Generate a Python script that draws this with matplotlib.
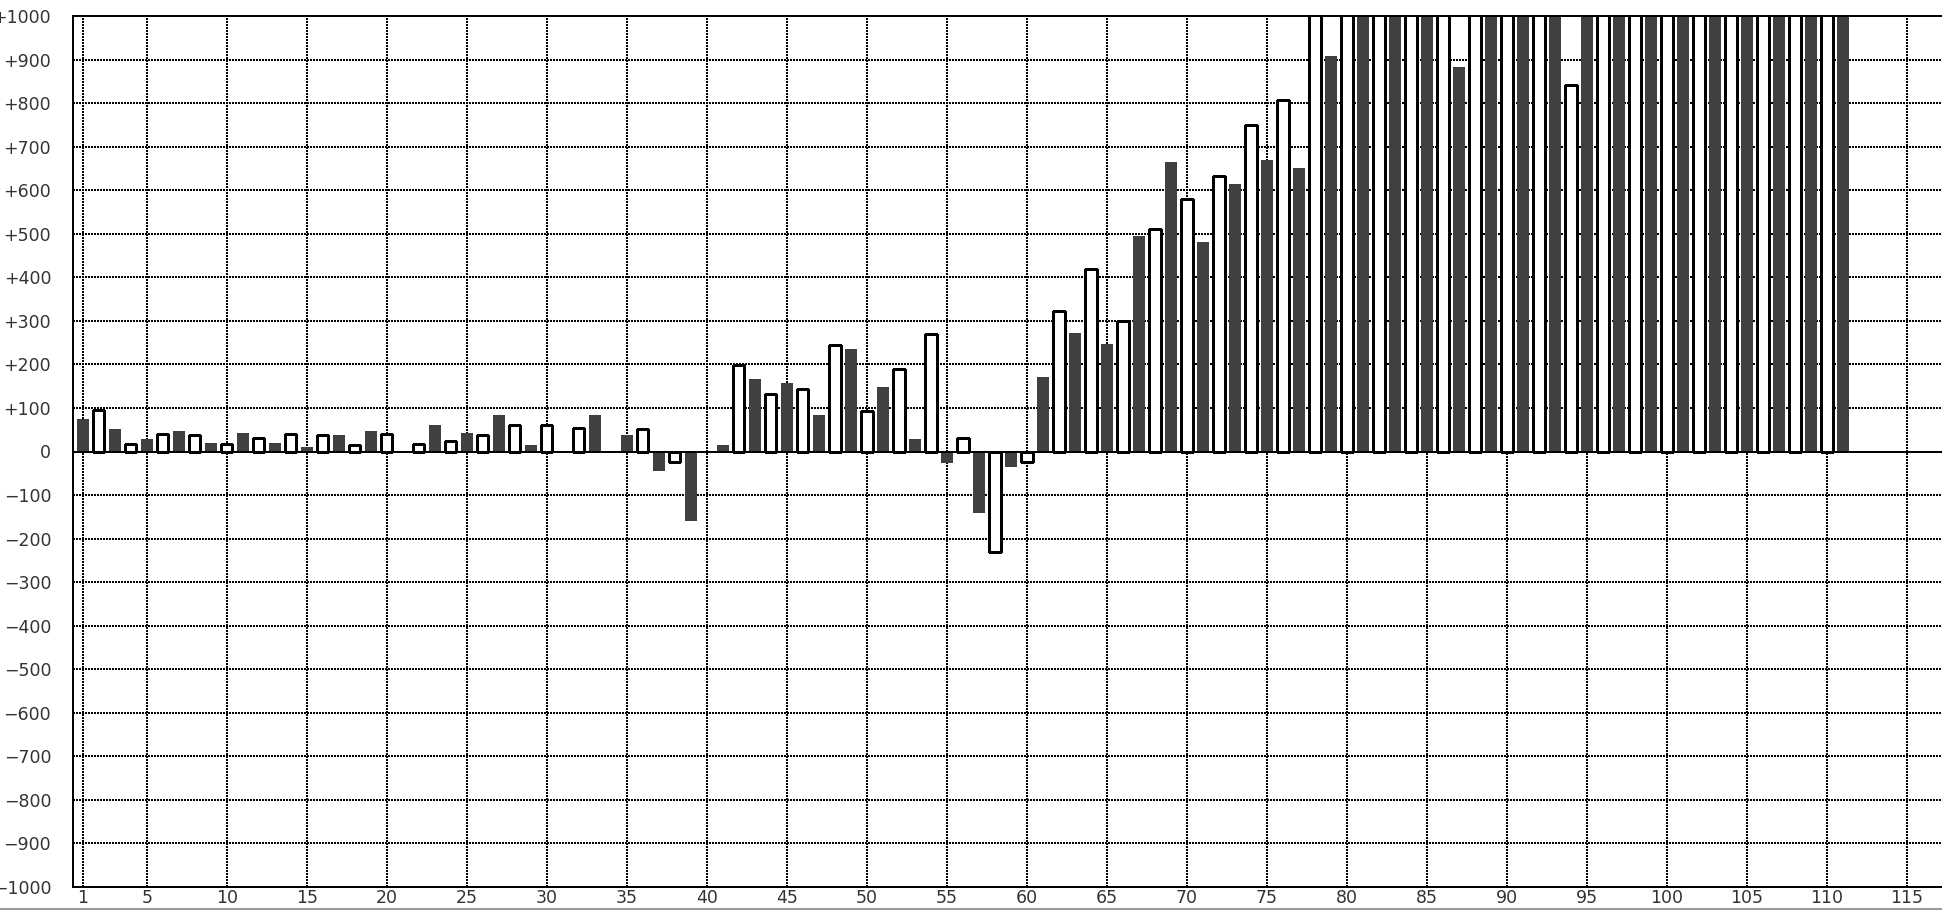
import matplotlib
matplotlib.use("Agg")
import matplotlib.pyplot as plt
from matplotlib.lines import Line2D

# bar values, positions 1..111 (odd = dark, even = outlined white)
# None = no bar; values above +1000 are off the scale and get clipped
values = [
    75, 95, 52, 18, 29, 41, 47, 37, 20, 18,
    43, 32, 20, 41, 11, 37, 38, 14, 47, 41,
    None, 18, 61, 23, 43, 37, 84, 60, 15, 60,
    None, 55, 84, None, 38, 51, -44, -24, -159, None,
    15, 198, 167, 133, 158, 143, 84, 244, 236, 94,
    149, 189, 29, 271, -26, 32, -141, -230, -35, -25,
    172, 323, 273, 420, 246, 300, 495, 512, 665, 581,
    481, 632, 615, 751, 670, 807, 652, 1100, 909, 1100,
    1100, 1100, 1100, 1100, 1100, 1100, 884, 1100, 1100, 1100,
    1100, 1100, 1100, 841, 1100, 1100, 1100, 1100, 1100, 1100,
    1100, 1100, 1100, 1100, 1100, 1100, 1100, 1100, 1100, 1100,
    1100,
]
x_ticks = [1, 5, 10, 15, 20, 25, 30, 35, 40, 45, 50, 55, 60, 65, 70, 75,
           80, 85, 90, 95, 100, 105, 110, 115]
y_ticks = list(range(-1000, 1001, 100))
y_labels = [("+%d" % v if v > 0 else ("\u2212%d" % -v if v < 0 else "0"))
            for v in y_ticks]

DARK = "#404040"
TEXT = "#333333"

fig = plt.figure(figsize=(19.42, 9.10), dpi=100)
fig.patch.set_facecolor("white")
ax = fig.add_axes([72.7 / 1942, (910 - 886.7) / 910,
                   (1942 - 72.7) / 1942, (886.7 - 16.3) / 910])

pos = [p for p in range(1, len(values) + 1) if values[p - 1] is not None]
dark_x = [p for p in pos if p % 2 == 1]
dark_v = [values[p - 1] for p in dark_x]
white_x = [p for p in pos if p % 2 == 0]
white_v = [values[p - 1] for p in white_x]

ax.bar(dark_x, dark_v, width=0.75, color=DARK, edgecolor="none",
       antialiased=False, zorder=2)
ax.bar(white_x, white_v, width=0.72, color="white", edgecolor="black",
       linewidth=1.0, antialiased=False, zorder=2)

ax.axhline(0, color="black", linewidth=1.2, antialiased=False, zorder=3)

ax.set_xlim(0.375, 117.2)
ax.set_ylim(-1000, 1000)
ax.set_xticks(x_ticks)
ax.set_xticklabels([str(t) for t in x_ticks])
ax.set_yticks(y_ticks)
ax.set_yticklabels(y_labels)

ax.set_axisbelow(True)
ax.grid(True, color="black", linestyle=(0, (1, 1)), linewidth=1.1,
        antialiased=False)

ax.tick_params(axis="both", length=0, labelsize=12.5, labelcolor=TEXT)
ax.tick_params(axis="y", pad=15.5)
ax.tick_params(axis="x", pad=2)

for side in ("left", "top", "bottom"):
    ax.spines[side].set_linewidth(1.2)
    ax.spines[side].set_color("black")
    ax.spines[side].set_antialiased(False)
ax.spines["right"].set_visible(False)

# window border along the bottom edge
fig.add_artist(Line2D([0, 1], [0.001, 0.001], transform=fig.transFigure,
                      color="#9a9a9a", linewidth=1.5))

fig.savefig("out.png", dpi=100, facecolor="white")
